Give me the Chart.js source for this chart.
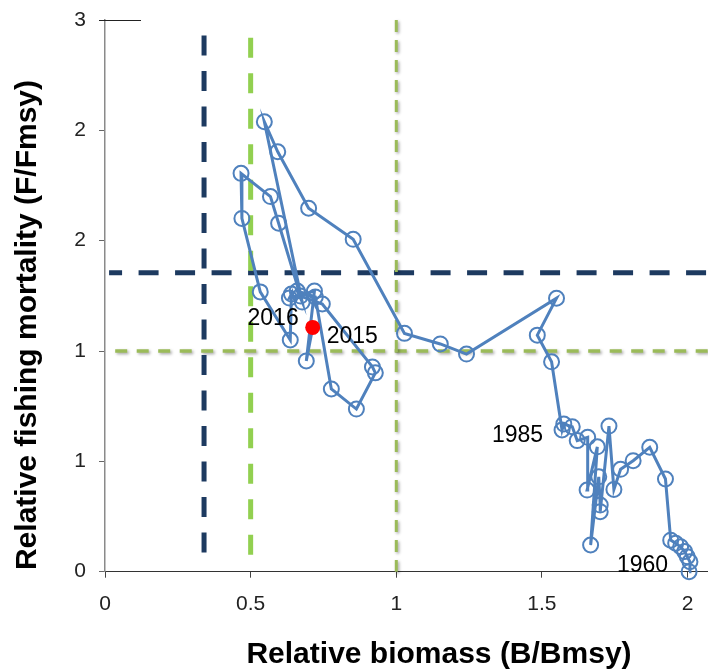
<!DOCTYPE html>
<html>
<head>
<meta charset="utf-8">
<script src="https://cdn.jsdelivr.net/npm/chart.js@4.4.0/dist/chart.umd.min.js"></script>
<style>
  html, body { margin: 0; padding: 0; background: #fff; }
  #wrap { width: 708px; height: 670px; }
</style>
</head>
<body>
<div id="wrap"><canvas id="chart"></canvas></div>
<script>
// stock trajectory, one point per year from 1960
const biomass = [
    2.005, 2.008, 1.999, 1.990, 1.976, 1.959, 1.942, 1.924, 1.870, 1.813,
    1.770, 1.747, 1.730, 1.700, 1.700, 1.695, 1.667, 1.690, 1.655, 1.657,
    1.621, 1.604, 1.575, 1.569, 1.533, 1.484, 1.550, 1.241, 1.151, 1.028,
    0.852, 0.699, 0.593, 0.547, 0.677, 0.660, 0.722, 0.777, 0.863, 0.928,
    0.918, 0.746, 0.671, 0.596, 0.568, 0.467, 0.470, 0.533, 0.636, 0.640,
    0.633, 0.719, 0.691, 0.713
];
const fishing = [
    0.000, 0.045, 0.068, 0.091, 0.113, 0.129, 0.143, 0.420, 0.564, 0.503,
    0.464, 0.373, 0.660, 0.272, 0.302, 0.430, 0.121, 0.566, 0.370, 0.609,
    0.594, 0.657, 0.669, 0.642, 0.951, 1.072, 1.239, 0.986, 1.032, 1.080,
    1.506, 1.647, 1.903, 2.039, 1.222, 1.272, 1.245, 0.828, 0.737, 0.901,
    0.928, 1.213, 1.249, 1.579, 1.700, 1.805, 1.601, 1.268, 1.050, 1.258,
    1.240, 1.272, 0.955, 1.107
];

// latest assessment point
const currentBiomass = [0.713];
const currentFishing = [1.107];

const xTicks = [0, 0.5, 1, 1.5, 2];
const xTickLabels = ["0", "0.5", "1", "1.5", "2"];
const yTicks = [0, 0.5, 1, 1.5, 2, 2.5];
const yTickLabels = ["0", "1", "1", "2", "2", "3"];

// reference points: Blim, Bpa, Bmsy and Fpa, Fmsy
const bRefs = [0.34, 0.5, 1];
const fRefs = [1.355, 1];

const yearLabels = ["1960", "1985", "2016", "2015"];
const yearPoints = [0, 23, 53, 53];

const BLUE = "#4f81bd";
const NAVY = "#1d3a60";
const LIME = "#92d050";
const OLIVE = "#9bbb59";
const FONT = "'Liberation Sans', Arial, sans-serif";

const limitLines = {
    id: "limitLines",
    beforeDatasetsDraw(chart) {
        const { ctx, scales: { x, y } } = chart;
        const line = (x1, y1, x2, y2, color, width, dash, offset, shadow) => {
            ctx.save();
            ctx.strokeStyle = color;
            ctx.lineWidth = width;
            ctx.setLineDash(dash);
            ctx.lineDashOffset = offset;
            if (shadow) {
                ctx.shadowColor = "rgba(0,0,0,0.35)";
                ctx.shadowBlur = 3;
                ctx.shadowOffsetX = 1.5;
                ctx.shadowOffsetY = 1.5;
            }
            ctx.beginPath();
            ctx.moveTo(x1, y1);
            ctx.lineTo(x2, y2);
            ctx.stroke();
            ctx.restore();
        };
        const right = chart.chartArea.right;

        // horizontal F lines
        line(x.getPixelForValue(0.014), y.getPixelForValue(fRefs[0]), right, y.getPixelForValue(fRefs[0]),
            NAVY, 5, [20, 16.5], 7, false);
        line(x.getPixelForValue(0.035), y.getPixelForValue(fRefs[1]), right, y.getPixelForValue(fRefs[1]),
            OLIVE, 3.5, [12, 9.5], 0, true);

        // vertical B lines
        line(x.getPixelForValue(bRefs[0]), y.getPixelForValue(2.43), x.getPixelForValue(bRefs[0]), y.getPixelForValue(0.03),
            NAVY, 5, [20, 15.5], 0, false);
        line(x.getPixelForValue(bRefs[1]), y.getPixelForValue(2.42), x.getPixelForValue(bRefs[1]), y.getPixelForValue(0.02),
            LIME, 5, [20, 15.5], 0, false);
        line(x.getPixelForValue(bRefs[2]), y.getPixelForValue(2.5), x.getPixelForValue(bRefs[2]), y.getPixelForValue(0),
            OLIVE, 3, [12, 8], 0, true);
    },
    afterDraw(chart) {
        const { ctx, scales: { x, y } } = chart;
        ctx.save();

        // short rule at the top of the F axis
        ctx.strokeStyle = "#222";
        ctx.lineWidth = 1;
        ctx.beginPath();
        ctx.moveTo(x.left - 6, Math.round(y.top) + 0.5);
        ctx.lineTo(x.left + 36, Math.round(y.top) + 0.5);
        ctx.stroke();

        // axis titles
        ctx.fillStyle = "#000";
        ctx.font = "bold 30px " + FONT;
        ctx.textAlign = "center";
        ctx.textBaseline = "middle";
        ctx.fillText("Relative biomass (B/Bmsy)", 439, 655);
        ctx.save();
        ctx.translate(28, 325);
        ctx.rotate(-Math.PI / 2);
        ctx.fillText("Relative fishing mortality (F/Fmsy)", 0, 0);
        ctx.restore();

        // year labels
        ctx.font = "23px " + FONT;
        const place = [
            { dx: -21, dy: -6, align: "right" },
            { dx: -19, dy: 6, align: "right" },
            { dx: -14, dy: -9, align: "right" },
            { dx: 14, dy: 9, align: "left" },
        ];
        yearLabels.forEach((txt, i) => {
            const k = yearPoints[i];
            const px = x.getPixelForValue(biomass[k]);
            const py = y.getPixelForValue(fishing[k]);
            ctx.textAlign = place[i].align;
            ctx.fillText(txt, px + place[i].dx, py + place[i].dy);
        });
        ctx.restore();
    },
};

const last = biomass.length - 1;

new Chart(document.getElementById("chart"), {
    type: "scatter",
    data: {
        datasets: [
            {
                data: currentBiomass.map((b, i) => ({ x: b, y: currentFishing[i] })),
                pointRadius: 7.5,
                pointBackgroundColor: "#ff0000",
                pointBorderColor: "#ff0000",
                pointBorderWidth: 0,
                clip: false,
            },
            {
                data: biomass.map((b, i) => ({ x: b, y: fishing[i] })),
                showLine: true,
                borderColor: BLUE,
                borderWidth: 3,
                pointRadius: (c) => (c.dataIndex === last ? 0 : 7.5),
                pointBorderWidth: 2,
                pointBorderColor: BLUE,
                pointBackgroundColor: "rgba(255,255,255,0)",
                clip: false,
            },
        ],
    },
    options: {
        responsive: true,
        maintainAspectRatio: false,
        animation: false,
        layout: { autoPadding: false, padding: { top: 20, right: 0, left: 0, bottom: 0 } },
        plugins: { legend: { display: false }, tooltip: { enabled: false } },
        scales: {
            x: {
                type: "linear",
                min: 0,
                max: 2.07,
                afterBuildTicks: (s) => { s.ticks = xTicks.map((v) => ({ value: v })); },
                afterFit: (s) => {
                    s.height = 98.3;
                    s.paddingLeft = 0;
                    s.paddingRight = 0;
                },
                ticks: {
                    callback: (v, i) => xTickLabels[i],
                    font: { family: FONT, size: 21 },
                    color: "#222",
                    padding: 14,
                    maxRotation: 0,
                },
                grid: { drawOnChartArea: false, drawTicks: true, tickLength: 6, color: "#444" },
                border: { display: true, color: "#333", width: 1 },
            },
            y: {
                type: "linear",
                min: 0,
                max: 2.5,
                afterBuildTicks: (s) => { s.ticks = yTicks.map((v) => ({ value: v })); },
                afterFit: (s) => {
                    s.width = 105;
                    s.paddingTop = 0;
                    s.paddingBottom = 0;
                },
                ticks: {
                    callback: (v, i) => yTickLabels[i],
                    font: { family: FONT, size: 21 },
                    color: "#222",
                    padding: 13,
                },
                grid: { drawOnChartArea: false, drawTicks: true, tickLength: 6, color: "#666" },
                border: { display: true, color: "#8a8a8a", width: 1.5 },
            },
        },
    },
    plugins: [limitLines],
});
</script>
</body>
</html>
